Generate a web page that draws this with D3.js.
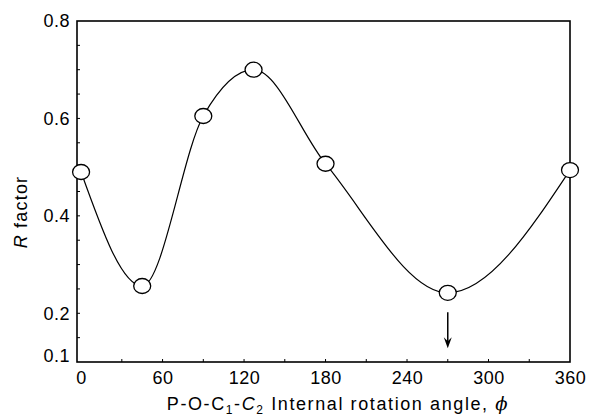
<!DOCTYPE html>
<html>
<head>
<meta charset="utf-8">
<script src="https://cdn.jsdelivr.net/npm/d3@7"></script>
<style>
  body { margin: 0; background: #fff; }
  text { font-family: "Liberation Sans", Arial, sans-serif; fill: #000; }
</style>
</head>
<body>
<svg width="592" height="418"></svg>
<script>
const angles = [0, 45, 90, 127, 180, 270, 360];
const rFactors = [0.49, 0.256, 0.605, 0.70, 0.507, 0.242, 0.494];
const xTicks = [0, 60, 120, 180, 240, 300, 360];
const yTicks = [0.1, 0.2, 0.4, 0.6, 0.8];
const arrowAngle = 270;
const arrowRange = [0.202, 0.128];

const svg = d3.select('svg');
const margin = {top: 21, right: 22, bottom: 56, left: 77};
const width = +svg.attr('width');
const height = +svg.attr('height');
const innerWidth = width - margin.left - margin.right;
const innerHeight = height - margin.top - margin.bottom;

const data = angles.map((a, i) => ({a, r: rFactors[i]}));

const xScale = d3.scaleLinear().domain([-3, 360]).range([0, innerWidth]);
const yScale = d3.scaleLinear().domain([0.1, 0.8]).range([innerHeight, 0]);

const g = svg.append('g')
	.attr('transform', `translate(${margin.left}, ${margin.top})`);

// frame
g.append('rect')
	.attr('width', innerWidth)
	.attr('height', innerHeight)
	.attr('fill', 'none')
	.attr('stroke', '#000')
	.attr('stroke-width', 1.6);

// minor ticks, pointing inward
const xMinor = d3.range(30, 360, 30);
g.selectAll('.xminor').data(xMinor)
	.enter().append('line')
		.attr('x1', d => xScale(d)).attr('x2', d => xScale(d))
		.attr('y1', innerHeight).attr('y2', innerHeight - 3)
		.attr('stroke', '#000');

const yMinor = d3.range(0.15, 0.8, 0.05);
g.selectAll('.yminor').data(yMinor)
	.enter().append('line')
		.attr('x1', 0).attr('x2', 3)
		.attr('y1', d => yScale(d)).attr('y2', d => yScale(d))
		.attr('stroke', '#000');

const xAxis = d3.axisBottom(xScale)
	.tickValues(xTicks)
	.tickSize(0)
	.tickPadding(9)
	.tickFormat(d3.format('d'));

const yAxis = d3.axisLeft(yScale)
	.tickValues(yTicks)
	.tickSize(0)
	.tickPadding(7)
	.tickFormat(d3.format('.1f'));

const xAxisG = g.append('g')
	.attr('transform', `translate(0, ${innerHeight})`)
	.call(xAxis);
xAxisG.select('.domain').remove();
xAxisG.selectAll('text')
	.attr('font-size', 18)
	.attr('letter-spacing', 0.5)
	.attr('font-family', '"Liberation Sans", Arial, sans-serif');

const yAxisG = g.append('g').call(yAxis);
yAxisG.select('.domain').remove();
yAxisG.selectAll('text')
	.attr('font-size', 18)
	.attr('letter-spacing', 0.5)
	.attr('font-family', '"Liberation Sans", Arial, sans-serif');
yAxisG.selectAll('.tick')
	.filter(d => d === 0.1)
	.select('text')
		.attr('dy', '-0.05em');

// axis labels
const yLabel = svg.append('text')
	.attr('transform', `translate(27, 212) rotate(-90)`)
	.attr('text-anchor', 'middle')
	.attr('letter-spacing', 1.2)
	.attr('font-size', 18);
yLabel.append('tspan').attr('font-style', 'italic').text('R');
yLabel.append('tspan').text(' factor');

const xLabel = svg.append('text')
	.attr('x', 338)
	.attr('y', 410)
	.attr('text-anchor', 'middle')
	.attr('letter-spacing', 1.6)
	.attr('font-size', 18);
xLabel.append('tspan').text('P-O-C');
xLabel.append('tspan').attr('font-size', 12).attr('dy', 4).text('1');
xLabel.append('tspan').attr('dy', -4).text('-');
xLabel.append('tspan').attr('font-style', 'italic').text('C');
xLabel.append('tspan').attr('font-size', 12).attr('dy', 4).text('2');
xLabel.append('tspan').attr('dy', -4).text(' Internal rotation angle, ');
xLabel.append('tspan').attr('font-style', 'italic').attr('font-family', '"DejaVu Serif", serif').text('\u03D5');

// curve
const line = d3.line()
	.x(d => xScale(d.a))
	.y(d => yScale(d.r))
	.curve(d3.curveMonotoneX);

g.append('path')
	.datum(data)
	.attr('d', line)
	.attr('fill', 'none')
	.attr('stroke', '#000')
	.attr('stroke-width', 1.2);

g.selectAll('ellipse').data(data)
	.enter().append('ellipse')
		.attr('cx', d => xScale(d.a))
		.attr('cy', d => yScale(d.r))
		.attr('rx', 8.5)
		.attr('ry', 7.5)
		.attr('fill', '#fff')
		.attr('stroke', '#000')
		.attr('stroke-width', 1.3);

// arrow marking the minimum
const ax = xScale(arrowAngle);
const ay1 = yScale(arrowRange[0]);
const ay2 = yScale(arrowRange[1]);
g.append('line')
	.attr('x1', ax).attr('x2', ax)
	.attr('y1', ay1).attr('y2', ay2 - 6)
	.attr('stroke', '#000')
	.attr('stroke-width', 1.5);
g.append('path')
	.attr('d', `M${ax - 4},${ay2 - 11} L${ax},${ay2 - 7} L${ax + 4},${ay2 - 11} L${ax},${ay2} Z`)
	.attr('fill', '#000');
</script>
</body>
</html>
